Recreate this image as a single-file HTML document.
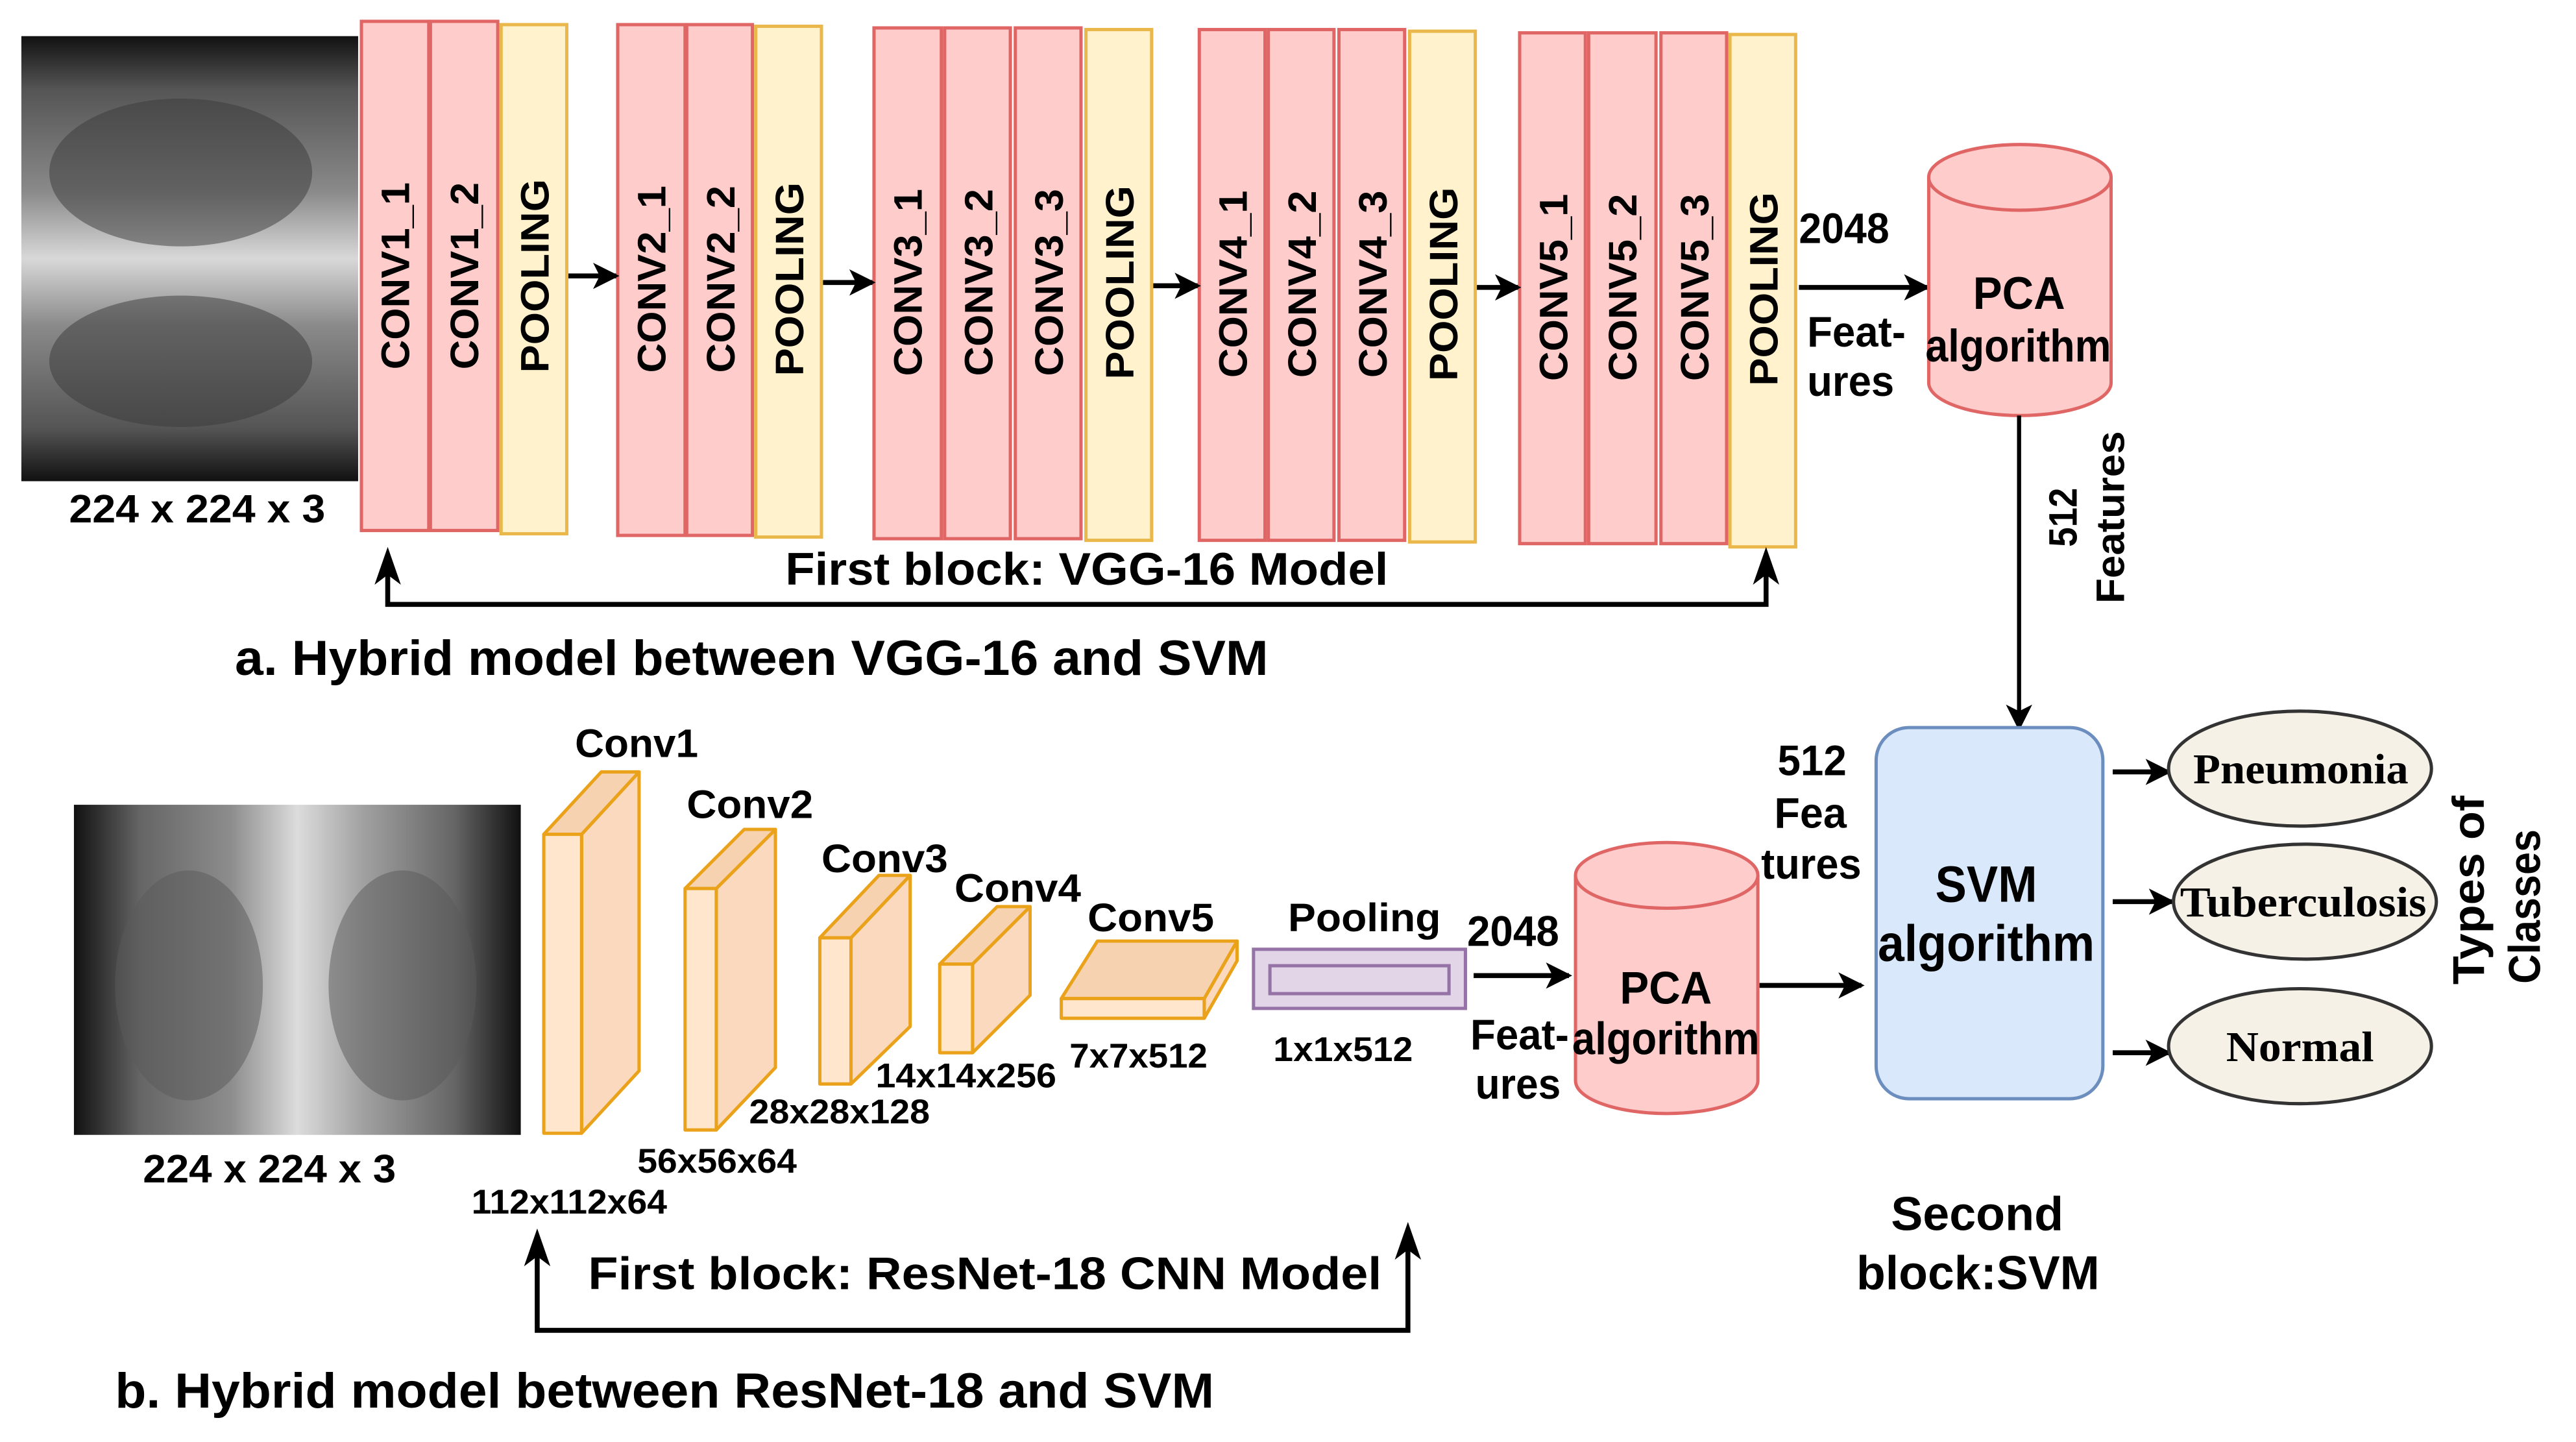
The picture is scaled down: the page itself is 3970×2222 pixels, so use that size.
<!DOCTYPE html>
<html><head><meta charset="utf-8"><style>
html,body{margin:0;padding:0;background:#fff;}
svg{display:block;}
text{font-family:"Liberation Sans",sans-serif;font-weight:bold;fill:#000;}
.s{font-family:"Liberation Serif",serif;}
.v{font-size:24px;text-anchor:middle;}
</style></head><body>
<svg width="3970" height="2222" viewBox="0 0 1568 878" preserveAspectRatio="none" xmlns="http://www.w3.org/2000/svg">
<defs>
<marker id="ah2" markerWidth="16" markerHeight="16" refX="14" refY="8" orient="auto" markerUnits="userSpaceOnUse"><path d="M0,0 L16,8 L0,16 L4,8 Z" fill="#000"/></marker>
<linearGradient id="x1" x1="0" y1="0" x2="0" y2="1">
<stop offset="0" stop-color="#111"/><stop offset="0.12" stop-color="#555"/><stop offset="0.35" stop-color="#8a8a8a"/><stop offset="0.5" stop-color="#d8d8d8"/><stop offset="0.65" stop-color="#8a8a8a"/><stop offset="0.88" stop-color="#555"/><stop offset="1" stop-color="#111"/></linearGradient>
<linearGradient id="x2" x1="0" y1="0" x2="1" y2="0">
<stop offset="0" stop-color="#111"/><stop offset="0.15" stop-color="#666"/><stop offset="0.35" stop-color="#8c8c8c"/><stop offset="0.5" stop-color="#dcdcdc"/><stop offset="0.65" stop-color="#a0a0a0"/><stop offset="0.85" stop-color="#666"/><stop offset="1" stop-color="#111"/></linearGradient>
</defs>

<rect x="13" y="22" width="205" height="271" fill="url(#x1)"/>
<ellipse cx="110" cy="105" rx="80" ry="45" fill="#3a3a3a" opacity="0.5"/>
<ellipse cx="110" cy="220" rx="80" ry="40" fill="#3a3a3a" opacity="0.5"/>
<text x="42" y="318" font-size="24" textLength="156" lengthAdjust="spacingAndGlyphs">224 x 224 x 3</text>

<g stroke-width="2">
<rect x="220" y="13" width="41" height="310" fill="#ffcccc" stroke="#e06666"/>
<rect x="262" y="13" width="41" height="310" fill="#ffcccc" stroke="#e06666"/>
<rect x="305" y="15" width="40" height="310" fill="#fff2cc" stroke="#eab84a"/>
<rect x="376" y="15" width="41" height="311" fill="#ffcccc" stroke="#e06666"/>
<rect x="418" y="15" width="40" height="311" fill="#ffcccc" stroke="#e06666"/>
<rect x="460" y="16" width="40" height="311" fill="#fff2cc" stroke="#eab84a"/>
<rect x="532" y="17" width="41" height="311" fill="#ffcccc" stroke="#e06666"/>
<rect x="575" y="17" width="40" height="311" fill="#ffcccc" stroke="#e06666"/>
<rect x="618" y="17" width="40" height="311" fill="#ffcccc" stroke="#e06666"/>
<rect x="661" y="18" width="40" height="311" fill="#fff2cc" stroke="#eab84a"/>
<rect x="730" y="18" width="40" height="311" fill="#ffcccc" stroke="#e06666"/>
<rect x="772" y="18" width="40" height="311" fill="#ffcccc" stroke="#e06666"/>
<rect x="815" y="18" width="40" height="311" fill="#ffcccc" stroke="#e06666"/>
<rect x="858" y="19" width="40" height="311" fill="#fff2cc" stroke="#eab84a"/>
<rect x="925" y="20" width="40" height="311" fill="#ffcccc" stroke="#e06666"/>
<rect x="967" y="20" width="41" height="311" fill="#ffcccc" stroke="#e06666"/>
<rect x="1011" y="20" width="40" height="311" fill="#ffcccc" stroke="#e06666"/>
<rect x="1053" y="21" width="40" height="312" fill="#fff2cc" stroke="#eab84a"/>
</g>
<g>
<text class="v" textLength="114" lengthAdjust="spacingAndGlyphs" transform="translate(249,168) rotate(-90)">CONV1_1</text>
<text class="v" textLength="114" lengthAdjust="spacingAndGlyphs" transform="translate(291,168) rotate(-90)">CONV1_2</text>
<text class="v" textLength="118" lengthAdjust="spacingAndGlyphs" transform="translate(334,168) rotate(-90)">POOLING</text>
<text class="v" textLength="114" lengthAdjust="spacingAndGlyphs" transform="translate(405,170) rotate(-90)">CONV2_1</text>
<text class="v" textLength="114" lengthAdjust="spacingAndGlyphs" transform="translate(447,170) rotate(-90)">CONV2_2</text>
<text class="v" textLength="118" lengthAdjust="spacingAndGlyphs" transform="translate(489,170) rotate(-90)">POOLING</text>
<text class="v" textLength="114" lengthAdjust="spacingAndGlyphs" transform="translate(561,172) rotate(-90)">CONV3_1</text>
<text class="v" textLength="114" lengthAdjust="spacingAndGlyphs" transform="translate(604,172) rotate(-90)">CONV3_2</text>
<text class="v" textLength="114" lengthAdjust="spacingAndGlyphs" transform="translate(647,172) rotate(-90)">CONV3_3</text>
<text class="v" textLength="118" lengthAdjust="spacingAndGlyphs" transform="translate(690,172) rotate(-90)">POOLING</text>
<text class="v" textLength="114" lengthAdjust="spacingAndGlyphs" transform="translate(759,173) rotate(-90)">CONV4_1</text>
<text class="v" textLength="114" lengthAdjust="spacingAndGlyphs" transform="translate(801,173) rotate(-90)">CONV4_2</text>
<text class="v" textLength="114" lengthAdjust="spacingAndGlyphs" transform="translate(844,173) rotate(-90)">CONV4_3</text>
<text class="v" textLength="118" lengthAdjust="spacingAndGlyphs" transform="translate(887,173) rotate(-90)">POOLING</text>
<text class="v" textLength="114" lengthAdjust="spacingAndGlyphs" transform="translate(954,175) rotate(-90)">CONV5_1</text>
<text class="v" textLength="114" lengthAdjust="spacingAndGlyphs" transform="translate(996,175) rotate(-90)">CONV5_2</text>
<text class="v" textLength="114" lengthAdjust="spacingAndGlyphs" transform="translate(1040,175) rotate(-90)">CONV5_3</text>
<text class="v" textLength="118" lengthAdjust="spacingAndGlyphs" transform="translate(1082,176) rotate(-90)">POOLING</text>
</g>
<g stroke="#000" stroke-width="3" marker-end="url(#ah2)">
<line x1="346" y1="168" x2="375" y2="168"/>
<line x1="501" y1="172" x2="531" y2="172"/>
<line x1="702" y1="174" x2="729" y2="174"/>
<line x1="899" y1="175" x2="924" y2="175"/>
<line x1="1095" y1="175" x2="1173" y2="175"/>
</g>
<text x="1095" y="148" font-size="26" textLength="55" lengthAdjust="spacingAndGlyphs">2048</text>
<text x="1100" y="211" font-size="26" textLength="60" lengthAdjust="spacingAndGlyphs">Feat-</text>
<text x="1100" y="241" font-size="26" textLength="53" lengthAdjust="spacingAndGlyphs">ures</text>

<path d="M1174,108 L1174,233 A55.5,20 0 0 0 1285,233 L1285,108" fill="#ffcccc" stroke="#e06666" stroke-width="2"/>
<ellipse cx="1229.5" cy="108" rx="55.5" ry="20" fill="#ffcccc" stroke="#e06666" stroke-width="2"/>
<text x="1201" y="188" font-size="28" textLength="56" lengthAdjust="spacingAndGlyphs">PCA</text>
<text x="1172" y="220" font-size="28" textLength="113" lengthAdjust="spacingAndGlyphs">algorithm</text>
<line x1="1229" y1="253" x2="1229" y2="443" stroke="#000" stroke-width="2.5" marker-end="url(#ah2)"/>
<text font-size="24" text-anchor="middle" textLength="36" lengthAdjust="spacingAndGlyphs" transform="translate(1264,315) rotate(-90)">512</text>
<text font-size="24" text-anchor="middle" textLength="105" lengthAdjust="spacingAndGlyphs" transform="translate(1293,315) rotate(-90)">Features</text>

<path d="M236,340 L236,368 L1075,368 L1075,340" fill="none" stroke="#000" stroke-width="3"/>
<path d="M236,333 L228,356 L236,350 L244,356 Z" fill="#000"/>
<path d="M1075,333 L1067,356 L1075,350 L1083,356 Z" fill="#000"/>
<text x="478" y="356" font-size="28" textLength="367" lengthAdjust="spacingAndGlyphs">First block: VGG-16 Model</text>
<text x="143" y="411" font-size="30" textLength="629" lengthAdjust="spacingAndGlyphs">a. Hybrid model between VGG-16 and SVM</text>

<rect x="45" y="490" width="272" height="201" fill="url(#x2)"/>
<ellipse cx="115" cy="600" rx="45" ry="70" fill="#5a5a5a" opacity="0.5"/>
<ellipse cx="245" cy="600" rx="45" ry="70" fill="#5a5a5a" opacity="0.5"/>
<text x="87" y="720" font-size="24" textLength="154" lengthAdjust="spacingAndGlyphs">224 x 224 x 3</text>

<g stroke="#eaa21a" stroke-width="2" stroke-linejoin="round">
<polygon points="354,508 389,470 389,652 354,690" fill="#fad9bf"/>
<polygon points="331,508 366,470 389,470 354,508" fill="#f6d2b0"/>
<rect x="331" y="508" width="23" height="182" fill="#ffe6cc"/>
<polygon points="436,541 472,505 472,650 436,688" fill="#fad9bf"/>
<polygon points="417,541 453,505 472,505 436,541" fill="#f6d2b0"/>
<rect x="417" y="541" width="19" height="147" fill="#ffe6cc"/>
<polygon points="518,571 554,533 554,625 518,660" fill="#fad9bf"/>
<polygon points="499,571 535,533 554,533 518,571" fill="#f6d2b0"/>
<rect x="499" y="571" width="19" height="89" fill="#ffe6cc"/>
<polygon points="592,587 627,552 627,606 592,641" fill="#fad9bf"/>
<polygon points="572,587 607,552 627,552 592,587" fill="#f6d2b0"/>
<rect x="572" y="587" width="20" height="54" fill="#ffe6cc"/>
<polygon points="733,608 753,573 753,585 733,620" fill="#fad9bf"/>
<polygon points="646,608 668,573 753,573 733,608" fill="#f6d2b0"/>
<rect x="646" y="608" width="87" height="12" fill="#ffe6cc"/>
</g>
<g font-size="24">
<text x="350" y="461" textLength="75" lengthAdjust="spacingAndGlyphs">Conv1</text>
<text x="418" y="498" textLength="77" lengthAdjust="spacingAndGlyphs">Conv2</text>
<text x="500" y="531" textLength="77" lengthAdjust="spacingAndGlyphs">Conv3</text>
<text x="581" y="549" textLength="77" lengthAdjust="spacingAndGlyphs">Conv4</text>
<text x="662" y="567" textLength="77" lengthAdjust="spacingAndGlyphs">Conv5</text>
<text x="784" y="567" textLength="93" lengthAdjust="spacingAndGlyphs">Pooling</text>
</g>
<g font-size="21">
<text x="287" y="739" textLength="119" lengthAdjust="spacingAndGlyphs">112x112x64</text>
<text x="388" y="714" textLength="97" lengthAdjust="spacingAndGlyphs">56x56x64</text>
<text x="456" y="684" textLength="110" lengthAdjust="spacingAndGlyphs">28x28x128</text>
<text x="533" y="662" textLength="110" lengthAdjust="spacingAndGlyphs">14x14x256</text>
<text x="651" y="650" textLength="84" lengthAdjust="spacingAndGlyphs">7x7x512</text>
<text x="775" y="646" textLength="85" lengthAdjust="spacingAndGlyphs">1x1x512</text>
</g>
<rect x="763" y="578" width="129" height="36" fill="#e1d5e7" stroke="#9673a6" stroke-width="2"/>
<rect x="773" y="588" width="109" height="17" fill="#e1d5e7" stroke="#9673a6" stroke-width="2"/>

<line x1="897" y1="594" x2="955" y2="594" stroke="#000" stroke-width="3" marker-end="url(#ah2)"/>
<text x="893" y="576" font-size="26" textLength="56" lengthAdjust="spacingAndGlyphs">2048</text>
<text x="895" y="639" font-size="26" textLength="60" lengthAdjust="spacingAndGlyphs">Feat-</text>
<text x="898" y="669" font-size="26" textLength="52" lengthAdjust="spacingAndGlyphs">ures</text>

<path d="M959,533 L959,658 A55.5,20 0 0 0 1070,658 L1070,533" fill="#ffcccc" stroke="#e06666" stroke-width="2"/>
<ellipse cx="1014.5" cy="533" rx="55.5" ry="20" fill="#ffcccc" stroke="#e06666" stroke-width="2"/>
<text x="986" y="611" font-size="28" textLength="56" lengthAdjust="spacingAndGlyphs">PCA</text>
<text x="957" y="642" font-size="28" textLength="114" lengthAdjust="spacingAndGlyphs">algorithm</text>
<line x1="1071" y1="600" x2="1133" y2="600" stroke="#000" stroke-width="3" marker-end="url(#ah2)"/>
<text x="1082" y="472" font-size="26" textLength="42" lengthAdjust="spacingAndGlyphs">512</text>
<text x="1080" y="504" font-size="26" textLength="44" lengthAdjust="spacingAndGlyphs">Fea</text>
<text x="1072" y="535" font-size="26" textLength="61" lengthAdjust="spacingAndGlyphs">tures</text>

<rect x="1142" y="443" width="138" height="226" rx="20" fill="#dae8fc" stroke="#6c8ebf" stroke-width="2"/>
<text x="1178" y="549" font-size="31" textLength="62" lengthAdjust="spacingAndGlyphs">SVM</text>
<text x="1143" y="585" font-size="31" textLength="132" lengthAdjust="spacingAndGlyphs">algorithm</text>
<g stroke="#000" stroke-width="3" marker-end="url(#ah2)">
<line x1="1286" y1="470" x2="1320" y2="470"/>
<line x1="1286" y1="549" x2="1322" y2="549"/>
<line x1="1286" y1="641" x2="1320" y2="641"/>
</g>
<g fill="#f5f1e6" stroke="#333" stroke-width="2">
<ellipse cx="1400" cy="468" rx="80" ry="35"/>
<ellipse cx="1403" cy="549" rx="80" ry="35"/>
<ellipse cx="1400" cy="637" rx="80" ry="35"/>
</g>
<g font-size="26">
<text class="s" x="1335" y="477" textLength="131" lengthAdjust="spacingAndGlyphs">Pneumonia</text>
<text class="s" x="1327" y="558" textLength="150" lengthAdjust="spacingAndGlyphs">Tuberculosis</text>
<text class="s" x="1355" y="646" textLength="90" lengthAdjust="spacingAndGlyphs">Normal</text>
</g>
<text font-size="27" text-anchor="middle" textLength="115" lengthAdjust="spacingAndGlyphs" transform="translate(1512,542) rotate(-90)">Types of</text>
<text font-size="27" text-anchor="middle" textLength="94" lengthAdjust="spacingAndGlyphs" transform="translate(1546,552) rotate(-90)">Classes</text>

<text x="1151" y="749" font-size="29" textLength="105" lengthAdjust="spacingAndGlyphs">Second</text>
<text x="1130" y="785" font-size="29" textLength="148" lengthAdjust="spacingAndGlyphs">block:SVM</text>

<path d="M327,755 L327,810 L857,810 L857,752" fill="none" stroke="#000" stroke-width="3"/>
<path d="M327,748 L319,771 L327,765 L335,771 Z" fill="#000"/>
<path d="M857,744 L849,767 L857,761 L865,767 Z" fill="#000"/>
<text x="358" y="785" font-size="28" textLength="483" lengthAdjust="spacingAndGlyphs">First block: ResNet-18 CNN Model</text>
<text x="70" y="857" font-size="30" textLength="669" lengthAdjust="spacingAndGlyphs">b. Hybrid model between ResNet-18 and SVM</text>
</svg>
</body></html>
